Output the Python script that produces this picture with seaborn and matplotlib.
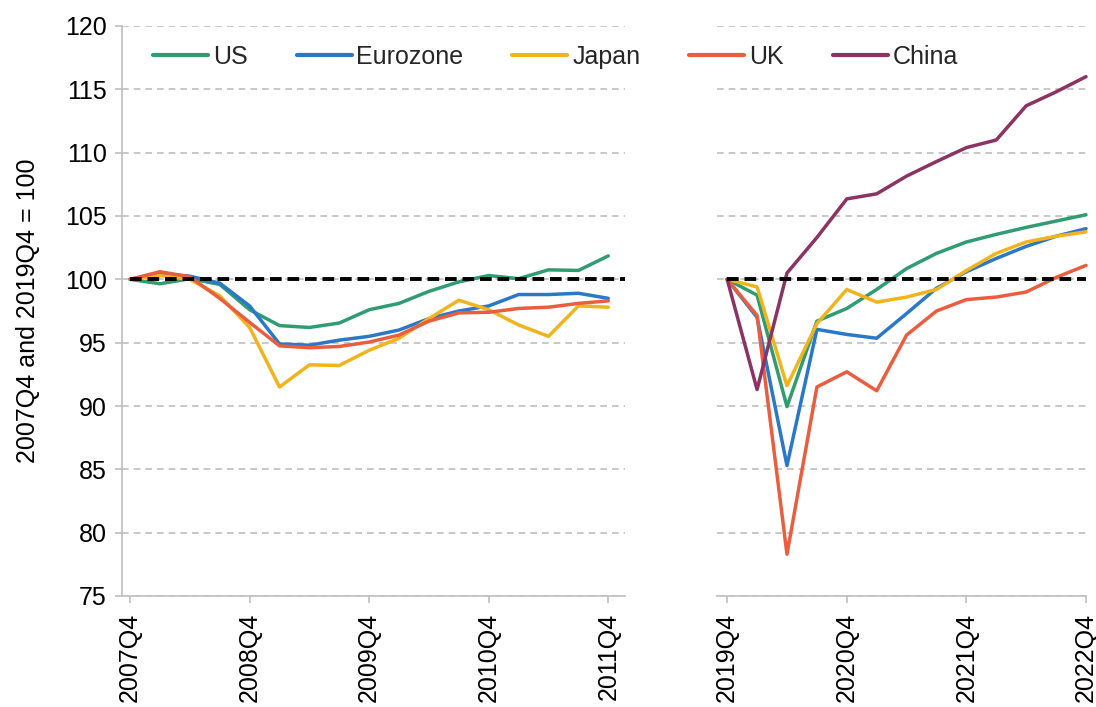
import numpy as np
import pandas as pd
import matplotlib
matplotlib.use("Agg")
import matplotlib.pyplot as plt
import seaborn as sns

# ---------------- data ----------------
left_quarters = ["2007Q4", "2008Q1", "2008Q2", "2008Q3", "2008Q4", "2009Q1", "2009Q2", "2009Q3",
                 "2009Q4", "2010Q1", "2010Q2", "2010Q3", "2010Q4", "2011Q1", "2011Q2", "2011Q3", "2011Q4"]
right_quarters = ["2019Q4", "2020Q1", "2020Q2", "2020Q3", "2020Q4", "2021Q1", "2021Q2", "2021Q3",
                  "2021Q4", "2022Q1", "2022Q2", "2022Q3", "2022Q4"]

us_left = [100, 99.65, 100.05, 99.6, 97.6, 96.35, 96.2, 96.55, 97.6, 98.1, 99.05, 99.8, 100.3, 100.05, 100.75, 100.7, 101.85]
ez_left = [100, 100.45, 100.25, 99.7, 97.9, 94.9, 94.8, 95.2, 95.5, 96.0, 96.9, 97.5, 97.9, 98.8, 98.8, 98.9, 98.5]
jp_left = [100, 100.3, 100.0, 98.7, 96.2, 91.5, 93.25, 93.2, 94.4, 95.35, 96.9, 98.35, 97.6, 96.4, 95.5, 97.9, 97.8]
uk_left = [100, 100.6, 100.2, 98.5, 96.6, 94.75, 94.6, 94.7, 95.05, 95.6, 96.7, 97.35, 97.4, 97.7, 97.8, 98.1, 98.3]

us_right = [100, 98.75, 89.95, 96.7, 97.7, 99.2, 100.85, 102.05, 102.95, 103.55, 104.1, 104.6, 105.1]
ez_right = [100, 97.0, 85.3, 96.05, 95.65, 95.35, 97.3, 99.3, 100.6, 101.65, 102.6, 103.4, 104.0]
jp_right = [100, 99.4, 91.6, 96.5, 99.2, 98.2, 98.6, 99.2, 100.7, 102.05, 102.95, 103.4, 103.75]
uk_right = [100, 97.15, 78.3, 91.5, 92.7, 91.2, 95.6, 97.5, 98.4, 98.6, 99.0, 100.15, 101.1]
cn_right = [100, 91.3, 100.5, 103.3, 106.35, 106.75, 108.15, 109.3, 110.4, 111.0, 113.7, 114.8, 116.0]

series_names = ["US", "Eurozone", "Japan", "UK", "China"]
colors = ["#2f9c72", "#2a78c8", "#f2b41c", "#ea5e3f", "#8c3363"]
baseline = 100
y_ticks = [75, 80, 85, 90, 95, 100, 105, 110, 115, 120]
y_label = "2007Q4 and 2019Q4 = 100"

# ---------------- build frames ----------------
def long_frame(quarters, cols):
    rows = []
    for name, vals in cols.items():
        for i, v in enumerate(vals):
            rows.append({"pos": i, "quarter": quarters[i], "series": name, "value": v})
    return pd.DataFrame(rows)

df_left = long_frame(left_quarters, {"US": us_left, "Eurozone": ez_left, "Japan": jp_left, "UK": uk_left})
df_right = long_frame(right_quarters, {"US": us_right, "Eurozone": ez_right, "Japan": jp_right,
                                       "UK": uk_right, "China": cn_right})
palette = dict(zip(series_names, colors))

# ---------------- style ----------------
sns.set_theme(style="white")
plt.rcParams["font.family"] = ["Liberation Sans", "DejaVu Sans"]
FS = 18
GRID = "#bfbfbf"

fig = plt.figure(figsize=(10.96, 7.07), dpi=100)
axL = fig.add_axes([122 / 1096, 1 - 596 / 707, 503 / 1096, 570 / 707])
axR = fig.add_axes([717 / 1096, 1 - 596 / 707, 369 / 1096, 570 / 707], sharey=axL)

sns.lineplot(data=df_left, x="pos", y="value", hue="series", hue_order=series_names[:4],
             palette=palette, linewidth=2.5, legend=False, ax=axL, sort=False, zorder=2.5)
sns.lineplot(data=df_right, x="pos", y="value", hue="series", hue_order=series_names,
             palette=palette, linewidth=2.5, legend=True, ax=axR, sort=False, zorder=2.5)

handles, labels = axR.get_legend_handles_labels()
axR.get_legend().remove()

axL.set_xlim(-0.27, 16.56)
axR.set_xlim(-0.34, 12.0)
axL.set_ylim(75, 120)

for ax, quarters in ((axL, left_quarters), (axR, right_quarters)):
    x0, x1 = ax.get_xlim()
    ax.axhline(baseline, xmin=(0 - x0) / (x1 - x0), xmax=1, color="black",
               linewidth=2.8, dashes=(3, 1.5), zorder=3)
    tpos = list(range(0, len(quarters), 4))
    ax.set_xticks(tpos)
    ax.set_xticklabels([quarters[i] for i in tpos], rotation=90, fontsize=FS, color="black")
    ax.set_yticks(y_ticks)
    ax.yaxis.grid(True, color=GRID, linewidth=1.2, linestyle=(0, (4, 3)))
    ax.xaxis.grid(False)
    ax.set_xlabel("")
    ax.set_ylabel("")
    for s in ("top", "right"):
        ax.spines[s].set_visible(False)
    ax.spines["bottom"].set_color(GRID)
    ax.spines["bottom"].set_linewidth(1.2)
    ax.tick_params(axis="x", which="major", direction="out", length=5, width=1.2,
                   color=GRID, pad=7, bottom=True)
    for line in ax.get_lines():
        line.set_clip_on(False)

axL.spines["left"].set_color(GRID)
axL.spines["left"].set_linewidth(1.2)
axL.tick_params(axis="y", which="major", direction="out", length=5, width=1.2,
                color=GRID, pad=6, left=True, labelsize=FS, labelcolor="black")
axR.spines["left"].set_visible(False)
axR.tick_params(axis="y", left=False, labelleft=False)

axL.set_ylabel(y_label, fontsize=FS, color="black", labelpad=18)

for h in handles:
    h.set_linewidth(3)
fig.legend(handles, labels, loc="center left", bbox_to_anchor=(153 / 1096, 1 - 57 / 707),
           ncol=5, frameon=False, fontsize=FS, handlelength=2.2, handletextpad=0.2,
           columnspacing=1.95, borderaxespad=0, borderpad=0)

fig.savefig("out.png", dpi=100)
